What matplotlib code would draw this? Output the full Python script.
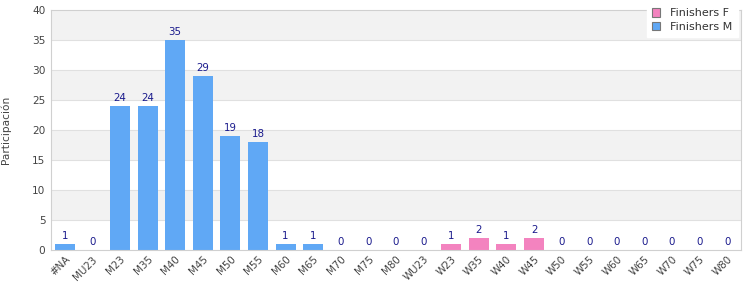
import matplotlib
matplotlib.use("Agg")
import matplotlib.pyplot as plt
import numpy as np

categories = ["#NA", "MU23", "M23", "M35", "M40", "M45", "M50", "M55", "M60", "M65",
              "M70", "M75", "M80", "WU23", "W23", "W35", "W40", "W45", "W50", "W55",
              "W60", "W65", "W70", "W75", "W80"]
finishers_m = [1, 0, 24, 24, 35, 29, 19, 18, 1, 1, 0, 0, 0]
finishers_f = [0, 1, 2, 1, 2, 0, 0, 0, 0, 0, 0, 0]

m_cats = categories[:13]
f_cats = categories[13:]

fig = plt.figure(figsize=(7.5, 3), dpi=100)
ax = fig.add_axes([51/750, 50/300, 690/750, 240/300])

xm = np.arange(len(m_cats))
xf = np.arange(len(m_cats), len(categories))

# alternating bands
for i, lo in enumerate(range(0, 40, 5)):
    if i % 2 == 1:
        ax.axhspan(lo, lo + 5, color="#f2f2f2", zorder=0, lw=0)
for y in range(5, 40, 5):
    ax.axhline(y, color="#e0e0e0", lw=0.8, zorder=1)

w = 0.72
bm = ax.bar(xm, finishers_m, width=w, color="#60a8f5", zorder=2, label="Finishers M")
bf = ax.bar(xf, finishers_f, width=w, color="#f383bf", zorder=2, label="Finishers F")

for xs, vals in ((xm, finishers_m), (xf, finishers_f)):
    for x, v in zip(xs, vals):
        ax.text(x, v + 0.5, str(v), ha="center", va="bottom", fontsize=7.4,
                color="#1a1a8c", zorder=3)

ax.set_xlim(-0.5, len(categories) - 0.5)
ax.set_ylim(0, 40)
ax.set_yticks(range(0, 41, 5))
ax.set_xticks(np.arange(len(categories)))
ax.set_xticklabels(categories, rotation=45, ha="right", rotation_mode="anchor",
                   fontsize=7.4, color="#444444")
ax.tick_params(axis="y", labelsize=7.6, labelcolor="#444444", length=0, pad=4)
ax.tick_params(axis="x", length=0, pad=3)
for s in ax.spines.values():
    s.set_color("#d0d0d0")
    s.set_linewidth(0.8)
ax.set_ylabel("Participación", fontsize=7.6, color="#444444", labelpad=15)

handles = [bf, bm]
leg = ax.legend(handles, ["Finishers F", "Finishers M"], loc="upper right",
                bbox_to_anchor=(1.0, 1.042), fontsize=8, frameon=True,
                fancybox=False, framealpha=1, edgecolor="white",
                handlelength=0.8, handleheight=0.8, borderpad=0.45,
                labelspacing=0.3, handletextpad=0.9, borderaxespad=0.3)
for h in leg.legend_handles:
    h.set_edgecolor("#777777")
    h.set_linewidth(0.8)
for t in leg.get_texts():
    t.set_color("#333333")

fig.savefig("out.png", dpi=100)
